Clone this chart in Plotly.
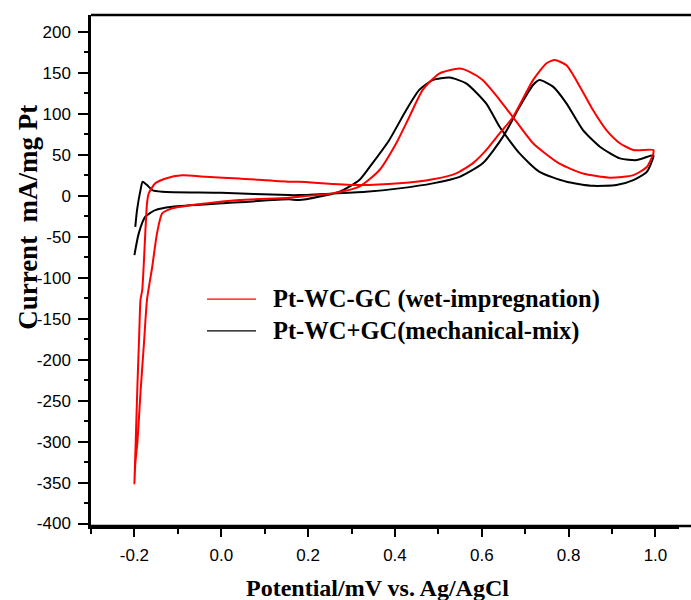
import plotly.graph_objects as go

# Pt-WC-GC (wet-impregnation) - red loop (forward then backward)
red_x = [-0.200, -0.197, -0.193, -0.189, -0.186, -0.182, -0.175, -0.171, -0.167, -0.152, -0.128, -0.090,
         -0.036, 0.041, 0.156, 0.179, 0.310, 0.410, 0.487, 0.541, 0.579, 0.610, 0.641, 0.672, 0.718,
         0.749, 0.768, 0.795, 0.826, 0.856, 0.887, 0.918, 0.949, 0.995,
         0.995, 0.980, 0.949, 0.895, 0.833, 0.779, 0.718, 0.680, 0.641, 0.602, 0.572, 0.549, 0.502,
         0.464, 0.433, 0.403, 0.364, 0.318, 0.256, 0.179, 0.156, 0.041, -0.036, -0.113, -0.136,
         -0.148, -0.159, -0.171, -0.178, -0.186, -0.193, -0.198, -0.200]
red_y = [-351, -300, -230, -170, -127, -115, -46, -9.4, 2.8, 15, 21, 24.8,
         23, 21, 17, 17, 12.9, 15, 19.9, 27.2, 39.4, 55.6, 76, 96, 141,
         161.5, 165.5, 159, 133, 104.5, 80, 64, 55.7, 55.7,
         51.6, 35, 25, 22, 27, 39, 64, 90, 117, 141, 151, 155, 149,
         129, 96, 64, 31, 11, 2.8, -1.3, -2.6, -5.4, -9.4, -15.5, -21.6,
         -46, -87, -127, -180, -240, -300, -327, -351]

# Pt-WC+GC (mechanical-mix) - black loop (forward then backward)
black_x = [-0.198, -0.194, -0.186, -0.181, -0.171, -0.159, -0.136, 0.000, 0.156, 0.179, 0.333, 0.410,
           0.487, 0.549, 0.602, 0.649, 0.687, 0.718, 0.733, 0.764, 0.795, 0.833, 0.872, 0.918,
           0.957, 0.995,
           0.995, 0.980, 0.949, 0.910, 0.856, 0.795, 0.733, 0.687, 0.641, 0.610, 0.564, 0.526,
           0.487, 0.456, 0.426, 0.387, 0.348, 0.318, 0.272, 0.179, 0.156, 0.002, -0.113, -0.152,
           -0.175, -0.190, -0.200]
black_y = [-38, -17.6, 6.8, 17, 13, 6.8, 4.8, 3.5, 0.7, 0.7, 4.8, 8.9,
           15, 23, 39.4, 72, 108.5, 135, 141, 133, 112.6, 80, 59.7, 45.5,
           43.4, 49.5,
           47, 29, 19, 13, 12, 17, 29, 51.6, 84, 112.6, 137, 144,
           141, 129, 104.5, 68, 39.4, 19, 4.8, -5.4, -4.5, -9.4, -13.5, -17.6,
           -25.7, -46, -72.5]

series_names = ["Pt-WC-GC (wet-impregnation)", "Pt-WC+GC(mechanical-mix)"]
series_colors = ["#ff0000", "#000000"]

x_tickvals = [-0.2, 0.0, 0.2, 0.4, 0.6, 0.8, 1.0]
x_ticktext = ["-0.2", "0.0", "0.2", "0.4", "0.6", "0.8", "1.0"]
y_tickvals = [200, 150, 100, 50, 0, -50, -100, -150, -200, -250, -300, -350, -400]
y_ticktext = ["200", "150", "100", "50", "0", "-50", "-100", "-150", "-200", "-250", "-300", "-350", "-400"]

W = 691
R = 12  # right margin; top frame line continues to the window edge via a shape

fig = go.Figure()
fig.add_trace(go.Scatter(x=black_x, y=black_y, mode="lines",
                         line=dict(color=series_colors[1], width=2, shape="spline", smoothing=0.6),
                         name=series_names[1], showlegend=False))
fig.add_trace(go.Scatter(x=red_x, y=red_y, mode="lines",
                         line=dict(color=series_colors[0], width=2, shape="spline", smoothing=0.6),
                         name=series_names[0], showlegend=False))

pw = W - R - 91.0
def px(xpix):
    return (xpix - 91.0) / pw

# top frame line and bottom axis line run to the window edge
fig.add_shape(type="line", xref="paper", yref="paper", x0=0, x1=px(W + 5), y0=1, y1=1,
              line=dict(color="black", width=2.5))
fig.add_shape(type="line", xref="paper", yref="paper", x0=0, x1=px(W + 5), y0=0, y1=0,
              line=dict(color="black", width=2.5))

# manual legend
leg_y = [0.444, 0.382]
for i, (nm, col) in enumerate(zip(series_names, series_colors)):
    fig.add_shape(type="line", xref="paper", yref="paper", x0=px(207), x1=px(256), y0=leg_y[i], y1=leg_y[i],
                  line=dict(color=col, width=1.2))
    fig.add_annotation(xref="paper", yref="paper", x=px(271), y=leg_y[i], text="<b>%s</b>" % nm,
                       showarrow=False, xanchor="left", yanchor="middle",
                       font=dict(family="Liberation Serif", size=24.5, color="black"))

fig.add_annotation(xref="paper", yref="paper", x=px(377), y=-0.121, text="<b>Potential/mV vs. Ag/AgCl</b>",
                   showarrow=False, xanchor="center", yanchor="middle",
                   font=dict(family="Liberation Serif", size=24, color="black"))
fig.add_annotation(xref="paper", yref="paper", x=px(28), y=0.603, text="<b>Current  mA/mg Pt</b>",
                   showarrow=False, xanchor="center", yanchor="middle", textangle=-90,
                   font=dict(family="Liberation Serif", size=27, color="black"))

fig.update_layout(
    width=W, height=600,
    margin=dict(l=91, r=R, t=15, b=74),
    paper_bgcolor="white", plot_bgcolor="white",
    font=dict(family="Liberation Sans", size=17, color="black"),
    xaxis=dict(range=[-0.3, -0.2 + (W - R - 135.7) / 433.2], showgrid=False, zeroline=False, showline=True,
               linecolor="black", linewidth=2.5, mirror=False, ticks="outside", ticklen=8, tickwidth=2,
               tickcolor="black", tickvals=x_tickvals, ticktext=x_ticktext, ticklabelstandoff=4,
               minor=dict(ticks="outside", ticklen=5, tickwidth=1.5, tickcolor="black", dtick=0.1, tick0=0)),
    yaxis=dict(range=[-403, 220.4], showgrid=False, zeroline=False, showline=True, linecolor="black",
               linewidth=2.5, mirror=False, ticks="outside", ticklen=10, tickwidth=2, tickcolor="black",
               tickvals=y_tickvals, ticktext=y_ticktext, ticklabelstandoff=4,
               minor=dict(ticks="outside", ticklen=4, tickwidth=1.5, tickcolor="black", dtick=25, tick0=0)),
)

fig.write_html("out.html", config={"displayModeBar": False},
               post_script="document.body.style.margin='0';document.body.style.overflow='hidden';")
